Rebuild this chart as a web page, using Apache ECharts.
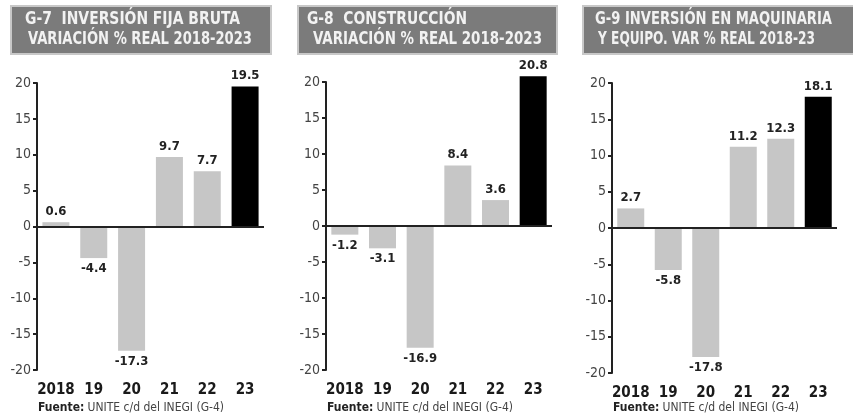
<!DOCTYPE html>
<html><head><meta charset="utf-8">
<script src="https://cdn.jsdelivr.net/npm/echarts@6/dist/echarts.min.js"></script>
<style>html,body{margin:0;padding:0;background:#fff}#c{width:853px;height:419px}</style>
</head><body><div id="c"></div>
<script>
var categories = ['2018', '19', '20', '21', '22', '23'];
var g7Values = [0.6, -4.4, -17.3, 9.7, 7.7, 19.5];
var g8Values = [-1.2, -3.1, -16.9, 8.4, 3.6, 20.8];
var g9Values = [2.7, -5.8, -17.8, 11.2, 12.3, 18.1];
var titles = [
  ['G-7  INVERSIÓN FIJA BRUTA', 'VARIACIÓN % REAL 2018-2023'],
  ['G-8  CONSTRUCCIÓN', 'VARIACIÓN % REAL 2018-2023'],
  ['G-9 INVERSIÓN EN MAQUINARIA', 'Y EQUIPO. VAR % REAL 2018-23']
];
var sourceText = 'UNITE c/d del INEGI (G-4)';

var FONT = '"DejaVu Sans Condensed","Liberation Sans Narrow",sans-serif';
var chart = echarts.init(document.getElementById('c'), null, {renderer: 'canvas'});

var grids = [
  {left: 37, width: 227, top: 83, height: 287},
  {left: 326, width: 226, top: 82, height: 288},
  {left: 612, width: 225, top: 83, height: 290}
];
// title box geometry and target text extents (x start, width) per line
var boxes = [
  {x: 10, w: 260, l1: [25, 215], l2: [28, 224]},
  {x: 297, w: 259, l1: [307, 160], l2: [313, 229]},
  {x: 582, w: 271, l1: [595, 237], l2: [598, 217]}
];
var allValues = [g7Values, g8Values, g9Values];

var mctx = document.createElement('canvas').getContext('2d');
var TITLE_FONT = 'bold 18px ' + FONT;
function fitScale(txt, target) {
  mctx.font = TITLE_FONT;
  return target / mctx.measureText(txt).width;
}

var xAxes = [], yAxes = [], series = [], graphics = [];
grids.forEach(function (g, i) {
  xAxes.push({
    type: 'category', gridIndex: i, data: categories, position: 'bottom',
    axisLine: {show: false, onZero: false}, axisTick: {show: false},
    axisLabel: {interval: 0, margin: 13, fontFamily: FONT, fontWeight: 'bold', fontSize: 15, color: '#1a1a1a'}
  });
  yAxes.push({
    type: 'value', gridIndex: i, min: -20, max: 20, interval: 5,
    axisLine: {show: true, lineStyle: {color: '#222', width: 2}},
    axisTick: {show: true, length: 4, lineStyle: {color: '#222', width: 2}},
    splitLine: {show: false},
    axisLabel: {margin: 6, fontFamily: FONT, fontSize: 14, color: '#444'}
  });
  var vals = allValues[i];
  series.push({
    type: 'bar', xAxisIndex: i, yAxisIndex: i, barWidth: 27, clip: false,
    data: vals.map(function (v, k) {
      return {
        value: v,
        itemStyle: {color: k === vals.length - 1 ? '#000' : '#c6c6c6'},
        label: {position: v < 0 ? 'bottom' : 'top'}
      };
    }),
    label: {show: true, distance: 4, fontFamily: FONT, fontWeight: 'bold', fontSize: 13, color: '#222'},
    markLine: {
      silent: true, symbol: 'none', label: {show: false},
      lineStyle: {color: '#222', width: 2, type: 'solid'},
      data: [{yAxis: 0}]
    }
  });
  var b = boxes[i];
  graphics.push({
    type: 'rect', left: b.x, top: 5, shape: {width: b.w, height: 48},
    style: {fill: '#7b7b7b', stroke: '#c8c8c8', lineWidth: 2}
  });
  graphics.push({
    type: 'text', x: b.l1[0], y: 10, scaleX: fitScale(titles[i][0], b.l1[1]),
    style: {text: titles[i][0], fill: '#f2f2f2', font: TITLE_FONT}
  });
  graphics.push({
    type: 'text', x: b.l2[0], y: 30, scaleX: fitScale(titles[i][1], b.l2[1]),
    style: {text: titles[i][1], fill: '#f2f2f2', font: TITLE_FONT}
  });
  graphics.push({
    type: 'text', left: g.left + 1, top: 402,
    style: {
      text: '{b|Fuente:} {n|' + sourceText + '}',
      rich: {
        b: {fontFamily: FONT, fontWeight: 'bold', fontSize: 12, fill: '#222', color: '#222'},
        n: {fontFamily: FONT, fontSize: 12, fill: '#444', color: '#444'}
      }
    }
  });
});

chart.setOption({
  animation: false,
  grid: grids,
  xAxis: xAxes,
  yAxis: yAxes,
  series: series,
  graphic: graphics
});
</script></body></html>
